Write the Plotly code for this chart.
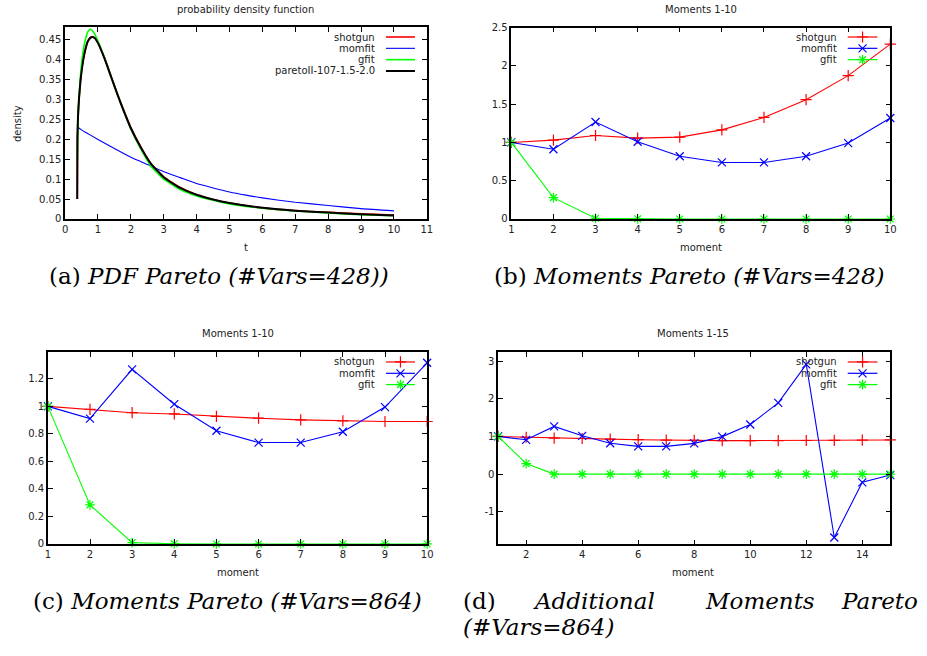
import plotly.graph_objects as go

W, H = 927, 656

# ---------------- data ----------------
# (a) probability density function
t_shotgun = [0.37, 0.375, 0.40, 0.45, 0.5, 0.6, 0.7, 0.8, 0.9, 1.0, 1.2, 1.4, 1.6, 1.8, 2.0, 2.3, 2.6, 3.0, 3.5, 4.0, 4.5, 5.0, 6.0, 7.0, 8.0, 9.0, 10.0]
d_shotgun = [0.05, 0.20, 0.27, 0.33, 0.372, 0.42, 0.449, 0.458, 0.455, 0.444, 0.405, 0.359, 0.313, 0.27, 0.23, 0.182, 0.141, 0.106, 0.079, 0.061, 0.049, 0.040, 0.028, 0.021, 0.017, 0.013, 0.010]
t_momfit = [0.37, 0.5, 1.0, 1.5, 2.0, 2.5, 3.0, 3.5, 4.0, 4.5, 5.0, 5.5, 6.0, 7.0, 8.0, 9.0, 10.0]
d_momfit = [0.232, 0.224, 0.200, 0.177, 0.155, 0.137, 0.119, 0.104, 0.089, 0.078, 0.068, 0.060, 0.053, 0.042, 0.034, 0.026, 0.0205]
t_gfit = [0.37, 0.40, 0.45, 0.5, 0.6, 0.7, 0.78, 0.9, 1.0, 1.2, 1.4, 1.6, 1.8, 2.0, 2.3, 2.6, 3.0, 3.5, 4.0, 4.5, 5.0, 6.0, 7.0, 8.0, 9.0, 10.0]
d_gfit = [0.146, 0.26, 0.34, 0.39, 0.445, 0.472, 0.477, 0.465, 0.447, 0.405, 0.358, 0.311, 0.267, 0.226, 0.176, 0.134, 0.100, 0.074, 0.058, 0.047, 0.038, 0.027, 0.020, 0.015, 0.011, 0.008]
t_pareto = [0.37, 0.375, 0.40, 0.45, 0.5, 0.6, 0.7, 0.8, 0.9, 1.0, 1.2, 1.4, 1.6, 1.8, 2.0, 2.3, 2.6, 3.0, 3.5, 4.0, 4.5, 5.0, 6.0, 7.0, 8.0, 9.0, 10.0]
d_pareto = [0.05, 0.20, 0.27, 0.33, 0.37, 0.42, 0.448, 0.457, 0.455, 0.442, 0.403, 0.357, 0.311, 0.268, 0.228, 0.180, 0.140, 0.105, 0.078, 0.061, 0.049, 0.040, 0.028, 0.021, 0.016, 0.012, 0.009]

# (b) moments 1-10, #Vars=428
mom_b = [1, 2, 3, 4, 5, 6, 7, 8, 9, 10]
b_shotgun = [1.0, 1.031, 1.091, 1.057, 1.07, 1.164, 1.327, 1.559, 1.873, 2.285]
b_momfit = [1.0, 0.911, 1.267, 1.009, 0.820, 0.739, 0.739, 0.820, 0.992, 1.319]
b_gfit = [1.0, 0.279, 0.009, 0.002, 0.0, 0.0, 0.0, 0.0, 0.0, 0.0]

# (c) moments 1-10, #Vars=864
mom_c = [1, 2, 3, 4, 5, 6, 7, 8, 9, 10]
c_shotgun = [1.0, 0.978, 0.954, 0.945, 0.928, 0.914, 0.902, 0.895, 0.890, 0.890]
c_momfit = [1.0, 0.911, 1.269, 1.016, 0.823, 0.737, 0.737, 0.816, 0.995, 1.317]
c_gfit = [1.0, 0.284, 0.0095, 0.002, 0.0, 0.0, 0.0, 0.0, 0.0, 0.0]

# (d) moments 1-15, #Vars=864
mom_d = [1, 2, 3, 4, 5, 6, 7, 8, 9, 10, 11, 12, 13, 14, 15]
d_shot = [1.0, 0.978, 0.954, 0.945, 0.928, 0.914, 0.902, 0.895, 0.890, 0.890, 0.890, 0.893, 0.898, 0.903, 0.907]
d_mom = [1.0, 0.911, 1.267, 1.016, 0.820, 0.737, 0.737, 0.816, 0.995, 1.317, 1.892, 2.913, -1.683, -0.218, -0.026]
d_gf = [1.0, 0.279, 0.0, 0.0, 0.0, 0.0, 0.0, 0.0, 0.0, 0.0, 0.0, 0.0, 0.0, 0.0, 0.0]

titles = ["probability density function", "Moments 1-10", "Moments 1-10", "Moments 1-15"]
series_names = ["shotgun", "momfit", "gfit", "paretoII-107-1.5-2.0"]
colors = ["#ff0000", "#0000ff", "#00ff00", "#000000"]
symbols = ["cross-thin", "x-thin", "asterisk"]

a_xticks = [0, 1, 2, 3, 4, 5, 6, 7, 8, 9, 10, 11]
a_yticks = [0, 0.05, 0.1, 0.15, 0.2, 0.25, 0.3, 0.35, 0.4, 0.45]
a_yticktext = ["0", "0.05", "0.1", "0.15", "0.2", "0.25", "0.3", "0.35", "0.4", "0.45"]
b_yticks = [0, 0.5, 1, 1.5, 2, 2.5]
b_yticktext = ["0", "0.5", "1", "1.5", "2", "2.5"]
c_yticks = [0, 0.2, 0.4, 0.6, 0.8, 1.0, 1.2]
c_yticktext = ["0", "0.2", "0.4", "0.6", "0.8", "1", "1.2"]
d_xticks = [2, 4, 6, 8, 10, 12, 14]
d_yticks = [-1, 0, 1, 2, 3]
d_yticktext = ["-1", "0", "1", "2", "3"]

# ---------------- layout helpers ----------------
def PX(x):
    return x / W

def PY(y):
    return 1 - y / H

TXT = "#222222"
FONT = "DejaVu Sans"

fig = go.Figure()

# plot (a)
ws = [1.6, 1.1, 1.6, 2.0]
for tx, dy, c, w, n in zip([t_shotgun, t_momfit, t_gfit, t_pareto],
                           [d_shotgun, d_momfit, d_gfit, d_pareto], colors, ws, series_names):
    fig.add_trace(go.Scatter(x=tx, y=dy, mode="lines", name=n, line=dict(color=c, width=w, shape="spline", smoothing=0.5),
                             xaxis="x", yaxis="y", showlegend=False, cliponaxis=True))

MS = 8
def mom_traces(xs, ys_list, xa, ya):
    for ys, c, s, n in zip(ys_list, colors[:3], symbols, series_names[:3]):
        fig.add_trace(go.Scatter(x=xs, y=ys, mode="lines+markers", name=n,
                                 line=dict(color=c, width=1.1),
                                 marker=dict(symbol=s, size=MS, color=c, line=dict(color=c, width=1.2)),
                                 xaxis=xa, yaxis=ya, showlegend=False, cliponaxis=False))

mom_traces(mom_b, [b_shotgun, b_momfit, b_gfit], "x2", "y2")
mom_traces(mom_c, [c_shotgun, c_momfit, c_gfit], "x3", "y3")
mom_traces(mom_d, [d_shot, d_mom, d_gf], "x4", "y4")

# plot rectangles in pixels: (left, top, right, bottom)
rects = {
    "a": (62.7, 22.3, 428.0, 217.3),
    "b": (513.3, 23.0, 896.0, 217.3),
    "c": (45.3, 352.7, 428.3, 547.3),
    "d": (500.0, 352.3, 896.0, 547.7),
}

def axis_common():
    return dict(showline=True, linecolor="black", linewidth=1.5, mirror="ticks",
                ticks="inside", ticklen=5, tickwidth=1, tickcolor="black",
                showgrid=False, zeroline=False,
                tickfont=dict(family=FONT, size=10, color=TXT))

def xdom(k):
    l, t, r, b = rects[k]
    return [PX(l), PX(r)]

def ydom(k):
    l, t, r, b = rects[k]
    return [PY(b), PY(t)]

layout = dict(
    width=W, height=H, margin=dict(l=0, r=0, t=0, b=0, pad=0),
    paper_bgcolor="white", plot_bgcolor="rgba(0,0,0,0)", showlegend=False,
)
layout["xaxis"] = dict(axis_common(), domain=xdom("a"), range=[0, 11], tickvals=a_xticks, anchor="y")
layout["yaxis"] = dict(axis_common(), domain=ydom("a"), range=[0, 0.4827], tickvals=a_yticks, ticktext=a_yticktext, anchor="x")
layout["xaxis2"] = dict(axis_common(), domain=xdom("b"), range=[1, 10], tickvals=mom_b, anchor="y2")
layout["yaxis2"] = dict(axis_common(), domain=ydom("b"), range=[0, 2.5], tickvals=b_yticks, ticktext=b_yticktext, anchor="x2")
layout["xaxis3"] = dict(axis_common(), domain=xdom("c"), range=[1, 10], tickvals=mom_c, anchor="y3")
layout["yaxis3"] = dict(axis_common(), domain=ydom("c"), range=[0, 1.393], tickvals=c_yticks, ticktext=c_yticktext, anchor="x3")
layout["xaxis4"] = dict(axis_common(), domain=xdom("d"), range=[1, 15], tickvals=d_xticks, anchor="y4")
layout["yaxis4"] = dict(axis_common(), domain=ydom("d"), range=[-1.865, 3.244], tickvals=d_yticks, ticktext=d_yticktext, anchor="x4")
# overlay pixel axes for legend sample markers
layout["xaxis5"] = dict(domain=[0, 1], range=[0, W], visible=False, fixedrange=True, anchor="y5")
layout["yaxis5"] = dict(domain=[0, 1], range=[H, 0], visible=False, fixedrange=True, anchor="x5")
fig.update_layout(**layout)

annotations = []
shapes = []

def text(x, y, s, size=10, xanchor="center", angle=0, family=FONT, color=TXT):
    annotations.append(dict(x=PX(x), y=PY(y), xref="paper", yref="paper", text=s, showarrow=False,
                            xanchor=xanchor, yanchor="middle", textangle=angle, borderpad=0,
                            font=dict(family=family, size=size, color=color)))

# titles
text(245, 5, titles[0])
text(705, 5, titles[1])
text(237, 334, titles[2])
text(697, 334, titles[3])
# axis labels
text(245, 246, "t")
text(14, 120, "density", angle=-90)
text(705, 246, "moment")
text(237, 576, "moment")
text(697, 576, "moment")

# legends
def legend(text_right, samp_l, samp_r, rows, n, with_markers):
    for i in range(n):
        y = rows[i]
        text(text_right, y, series_names[i], xanchor="right")
        lw = [1.6, 1.1, 1.6, 2.0][i] if not with_markers else 1.2
        shapes.append(dict(type="line", xref="paper", yref="paper", x0=PX(samp_l), x1=PX(samp_r),
                           y0=PY(y), y1=PY(y), line=dict(color=colors[i], width=lw)))
        if with_markers:
            fig.add_trace(go.Scatter(x=[(samp_l + samp_r) / 2], y=[y], mode="markers",
                                     marker=dict(symbol=symbols[i], size=MS, color=colors[i],
                                                 line=dict(color=colors[i], width=1.2)),
                                     xaxis="x5", yaxis="y5", showlegend=False, hoverinfo="skip"))

legend(376.7, 386.7, 416, [32.5, 44, 55.5, 67], 4, False)
legend(843, 853, 883, [32.5, 44, 55.5], 3, True)
legend(376.7, 386.7, 416, [362.5, 374, 385.5], 3, True)
legend(843, 853, 883, [362.5, 374, 385.5], 3, True)

# captions
CAP = "DejaVu Serif"
CS = 23
text(218, 275, "(a) <i>PDF Pareto (#Vars=428))</i>", size=CS, family=CAP, color="#000")
text(693, 275, "(b) <i>Moments Pareto (#Vars=428)</i>", size=CS, family=CAP, color="#000")
text(227, 605, "(c) <i>Moments Pareto (#Vars=864)</i>", size=CS, family=CAP, color="#000")
text(463, 605, "(d)", size=CS, family=CAP, color="#000", xanchor="left")
text(534, 605, "<i>Additional</i>", size=CS, family=CAP, color="#000", xanchor="left")
text(708, 605, "<i>Moments</i>", size=CS, family=CAP, color="#000", xanchor="left")
text(925, 605, "<i>Pareto</i>", size=CS, family=CAP, color="#000", xanchor="right")
text(463, 632, "<i>(#Vars=864)</i>", size=CS, family=CAP, color="#000", xanchor="left")

fig.update_layout(annotations=annotations, shapes=shapes)
fig.write_html("out.html", config={"displayModeBar": False},
               post_script="document.body.style.margin='0';document.body.style.overflow='hidden';")
